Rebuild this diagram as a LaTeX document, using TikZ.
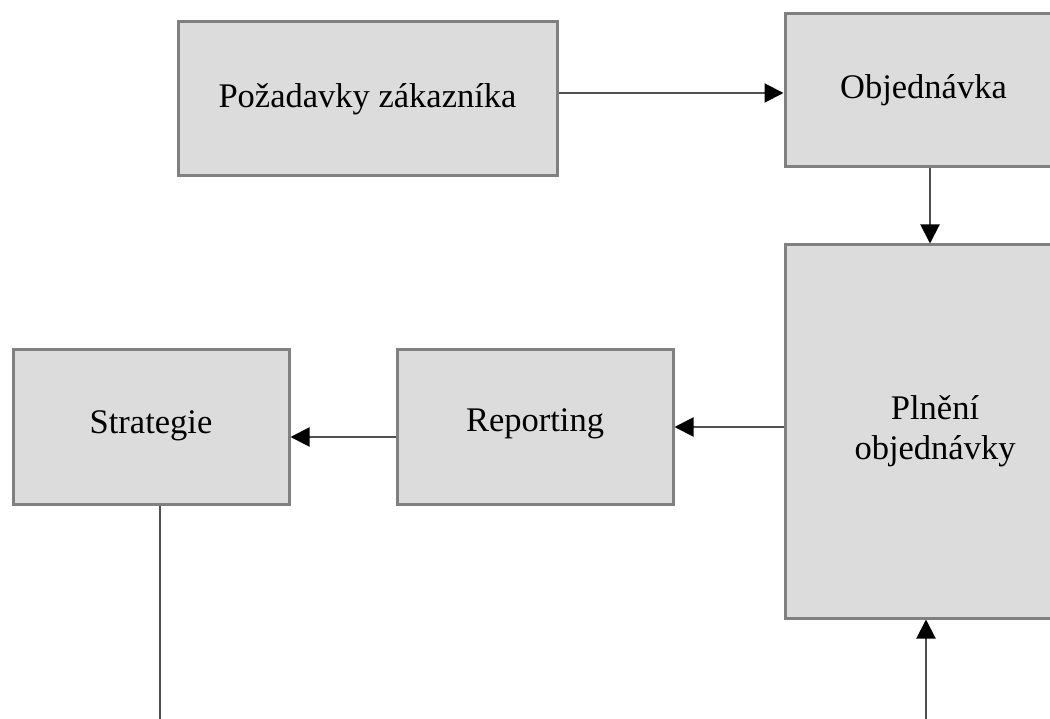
\documentclass[tikz,border=0pt]{standalone}
\usepackage{fontspec}
\setmainfont{Liberation Serif}
\usetikzlibrary{arrows.meta}

\tikzset{
  box/.style = {draw=boxline, fill=boxfill, line width=3pt, inner sep=0pt,
                align=center, font=\fontsize{34.5}{40}\selectfont},
  arr/.style = {draw=linkgray, line width=2pt,
                -{Triangle[length=19pt,width=19pt,color=black]}},
  link/.style = {draw=linkgray, line width=2.2pt}
}
\definecolor{boxfill}{HTML}{DCDCDC}
\definecolor{boxline}{HTML}{808080}
\definecolor{linkgray}{HTML}{505050}

\begin{document}
\begin{tikzpicture}[x=1pt, y=-1pt]

	% Page frame
	\clip (0,0) rectangle (1050,719);

	% Boxes
	\node[box, minimum width=379pt, minimum height=154pt] (pozadavky) at (367.5,99) {Požadavky zákazníka};
	\node[box, minimum width=277pt, minimum height=153pt] (objednavka) at (923.5,90.5) {Objednávka};
	\node[box, minimum width=300pt, minimum height=373pt] (plneni) at (935,431.5) {\raisebox{6pt}{\begin{tabular}{@{}c@{}}Plnění\\objednávky\end{tabular}}};
	\node[box, minimum width=276pt, minimum height=154pt] (reporting) at (535,427) {\raisebox{14pt}{Reporting}};
	\node[box, minimum width=276pt, minimum height=154pt] (strategie) at (151,427) {\raisebox{9pt}{Strategie}};

	% Loose ends at the bottom of the page
	\coordinate (stratend) at (160,719);
	\coordinate (plnstart) at (926,719);

	% Order flow
	\draw[arr] ([yshift=6pt]pozadavky.east) -- ([yshift=6pt]pozadavky.east -| objednavka.west);
	\draw[arr] ([xshift=6.5pt]objednavka.south) -- ([xshift=6.5pt]objednavka.south |- plneni.north);

	% Reporting back
	\draw[arr] (plneni.west |- reporting.east) -- (reporting.east);
	\draw[arr] ([yshift=-10pt]reporting.west) -- ([yshift=-10pt]reporting.west -| strategie.east);

	% Lines off the page
	\draw[link] (strategie.south -| stratend) -- (stratend);
	\draw[arr] (plnstart) -- (plnstart |- plneni.south);

\end{tikzpicture}
\end{document}
